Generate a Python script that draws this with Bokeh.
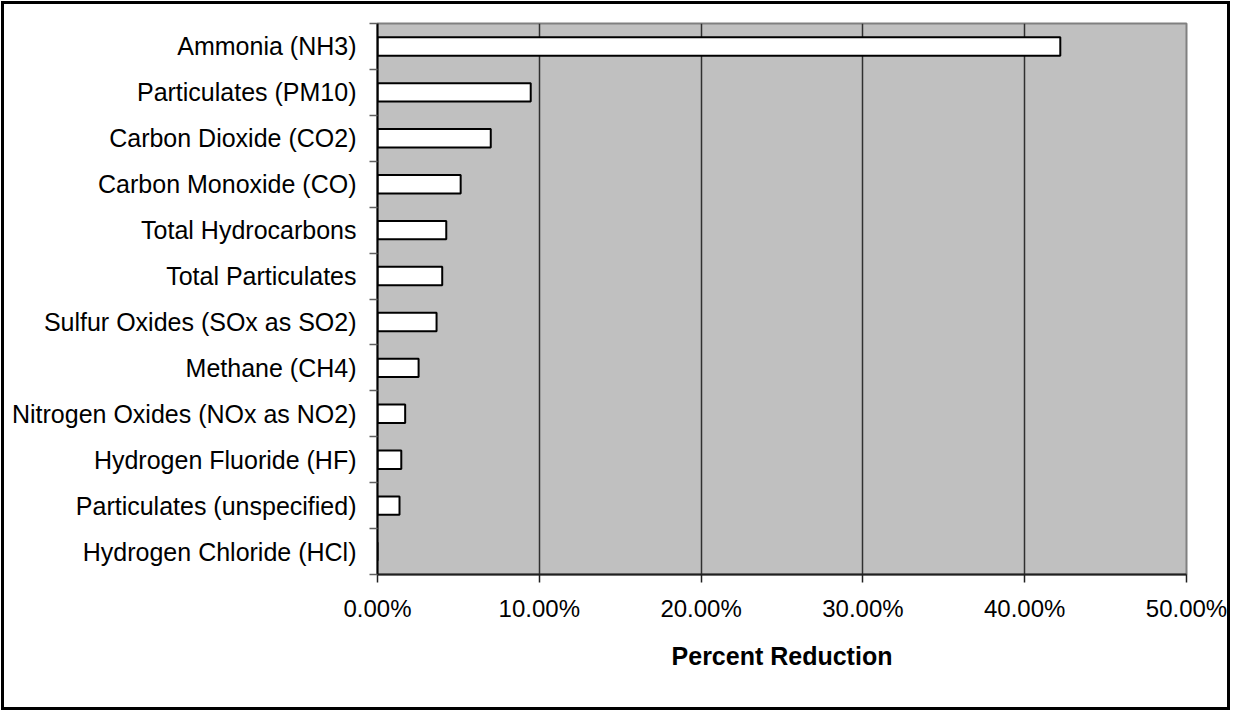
from bokeh.plotting import figure
from bokeh.models import Range1d, FixedTicker, NumeralTickFormatter, ColumnDataSource
from bokeh.embed import file_html
from bokeh.resources import INLINE

categories = [
    "Ammonia (NH3)",
    "Particulates (PM10)",
    "Carbon Dioxide (CO2)",
    "Carbon Monoxide (CO)",
    "Total Hydrocarbons",
    "Total Particulates",
    "Sulfur Oxides (SOx as SO2)",
    "Methane (CH4)",
    "Nitrogen Oxides (NOx as NO2)",
    "Hydrogen Fluoride (HF)",
    "Particulates (unspecified)",
    "Hydrogen Chloride (HCl)",
]
reduction = [0.422, 0.0947, 0.070, 0.0514, 0.0425, 0.040, 0.0365, 0.0254, 0.0171, 0.0147, 0.0136, 0.0]
x_ticks = [0.0, 0.1, 0.2, 0.3, 0.4, 0.5]

n = len(categories)
centers = [i + 0.5 for i in range(n)]
bounds = [float(i) for i in range(n + 1)]

src = ColumnDataSource(dict(y=centers, right=reduction, name=categories))

p = figure(width=1229, height=709, output_backend="svg", toolbar_location=None,
           x_range=Range1d(0, 0.5), y_range=Range1d(n, 0),
           min_border_left=373, min_border_top=19, min_border_right=47, min_border_bottom=139)
p.styles = {"border": "3px solid black", "margin-left": "1px", "margin-top": "1px"}
p.background_fill_color = "#C0C0C0"
p.border_fill_color = "white"
p.outline_line_color = "#808080"
p.outline_line_width = 2

p.hbar(y="y", left=0, right="right", height=0.4, source=src,
       fill_color="white", line_color="black", line_width=2)

# x axis
p.xaxis.ticker = FixedTicker(ticks=x_ticks)
p.xaxis.formatter = NumeralTickFormatter(format="0.00%")
p.xaxis.axis_label = "Percent Reduction"
p.xaxis.axis_label_text_font = "Liberation Sans"
p.xaxis.axis_label_text_font_style = "bold"
p.xaxis.axis_label_text_font_size = "25px"
p.xaxis.axis_label_text_color = "black"
p.xaxis.axis_label_standoff = 17
p.xaxis.major_label_text_font = "Liberation Sans"
p.xaxis.major_label_text_font_size = "24px"
p.xaxis.major_label_text_color = "black"
p.xaxis.major_label_standoff = 12
p.xaxis.major_tick_out = 8
p.xaxis.major_tick_in = 0
p.xaxis.minor_tick_out = 0
p.xaxis.minor_tick_in = 0
p.xaxis.axis_line_color = "#202020"
p.xaxis.axis_line_width = 2
p.xaxis.major_tick_line_color = "#202020"
p.xaxis.major_tick_line_width = 1.5

# y axis
p.yaxis.ticker = FixedTicker(ticks=centers, minor_ticks=bounds)
p.yaxis.major_label_overrides = {c: name for c, name in zip(centers, categories)}
p.yaxis.major_label_text_font = "Liberation Sans"
p.yaxis.major_label_text_font_size = "25px"
p.yaxis.major_label_text_color = "black"
p.yaxis.major_label_standoff = 13
p.yaxis.major_tick_out = 0
p.yaxis.major_tick_in = 0
p.yaxis.minor_tick_out = 8
p.yaxis.minor_tick_in = 0
p.yaxis.minor_tick_line_color = "#606060"
p.yaxis.minor_tick_line_width = 1.5
p.yaxis.axis_line_color = "black"
p.yaxis.axis_line_width = 2

p.xgrid.ticker = FixedTicker(ticks=x_ticks)
p.xgrid.grid_line_color = "#303030"
p.xgrid.grid_line_width = 1.5
p.ygrid.grid_line_color = None

open("out.html", "w").write(file_html(p, INLINE))
